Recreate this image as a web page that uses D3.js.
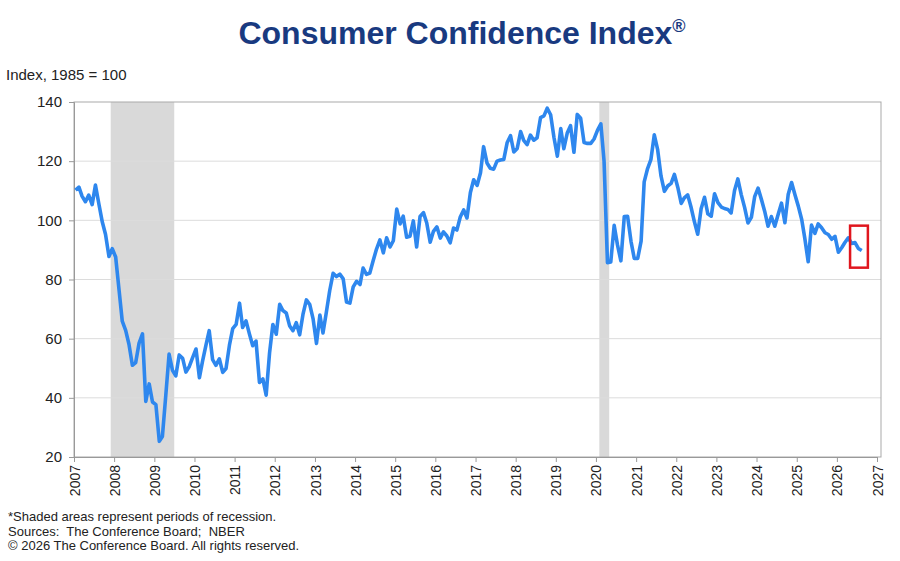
<!DOCTYPE html>
<html>
<head>
<meta charset="utf-8">
<script src="https://cdn.jsdelivr.net/npm/d3@7"></script>
<style>
  body { margin: 0; background: #fff; }
  svg { display: block; font-family: "Liberation Sans", Arial, sans-serif; }
</style>
</head>
<body>
<svg id="chart"></svg>
<script>
var screen = {width: 900, height: 561};
var margins = {top: 102, right: 19, bottom: 104, left: 74};

// monthly index values, Jan..Dec
var cci2007 = [110.2, 111.2, 108.2, 106.3, 108.5, 105.3, 111.9, 105.6, 99.5, 95.2, 87.8, 90.4];
var cci2008 = [87.6, 76.4, 65.9, 62.8, 58.1, 51.0, 51.9, 58.5, 61.6, 38.8, 44.7, 38.6];
var cci2009 = [37.7, 25.3, 26.9, 40.8, 54.8, 49.3, 47.4, 54.5, 53.4, 48.7, 50.6, 53.6];
var cci2010 = [56.5, 46.8, 52.3, 57.7, 62.7, 52.9, 51.0, 53.2, 48.6, 49.9, 57.8, 63.4];
var cci2011 = [64.8, 72.0, 63.8, 66.0, 61.7, 57.6, 59.2, 45.2, 46.4, 40.9, 55.2, 64.8];
var cci2012 = [61.5, 71.6, 69.5, 68.7, 64.4, 62.7, 65.4, 61.3, 68.4, 73.1, 71.5, 66.7];
var cci2013 = [58.4, 68.0, 61.9, 69.0, 76.2, 82.1, 81.0, 81.8, 80.2, 72.4, 72.0, 77.5];
var cci2014 = [79.4, 78.3, 83.9, 81.7, 82.2, 86.4, 90.3, 93.4, 89.0, 94.1, 91.0, 93.1];
var cci2015 = [103.8, 98.8, 101.4, 94.3, 94.6, 99.8, 91.0, 101.3, 102.6, 99.1, 92.6, 96.3];
var cci2016 = [97.8, 94.0, 96.1, 94.7, 92.4, 97.4, 96.7, 101.1, 103.5, 100.8, 109.4, 113.7];
var cci2017 = [111.8, 116.1, 124.9, 119.4, 117.6, 117.3, 120.0, 120.4, 120.6, 126.2, 128.6, 123.1];
var cci2018 = [124.3, 130.0, 127.0, 125.6, 128.8, 127.1, 127.9, 134.7, 135.3, 137.9, 135.7, 128.1];
var cci2019 = [121.7, 131.0, 124.2, 129.5, 132.0, 123.0, 135.8, 134.5, 126.3, 126.0, 126.0, 127.5];
var cci2020 = [130.4, 132.6, 120.0, 85.7, 85.9, 98.3, 91.7, 86.3, 101.3, 101.4, 92.9, 87.1];
var cci2021 = [87.1, 93.0, 113.0, 117.5, 120.5, 128.9, 124.0, 115.0, 109.8, 111.6, 112.5, 115.5];
var cci2022 = [111.1, 105.7, 107.6, 108.6, 104.5, 99.5, 95.3, 103.9, 107.8, 102.2, 101.4, 109.0];
var cci2023 = [106.0, 104.5, 104.0, 103.7, 102.5, 110.1, 114.0, 108.7, 104.3, 99.1, 101.0, 108.0];
var cci2024 = [110.9, 107.0, 103.1, 98.0, 101.3, 98.0, 101.9, 105.8, 99.2, 108.7, 112.8, 108.7];
var cci2025 = [104.8, 100.3, 94.0, 86.0, 98.4, 95.6, 98.8, 97.5, 95.8, 95.2, 93.6, 94.6];
var cci2026 = [89.2, 90.8, 92.5, 94.1, 92.2, 92.5, 90.5, 89.8];

var years = [2007, 2008, 2009, 2010, 2011, 2012, 2013, 2014, 2015, 2016,
             2017, 2018, 2019, 2020, 2021, 2022, 2023, 2024, 2025, 2026];
var yearly = [cci2007, cci2008, cci2009, cci2010, cci2011, cci2012, cci2013, cci2014, cci2015, cci2016,
              cci2017, cci2018, cci2019, cci2020, cci2021, cci2022, cci2023, cci2024, cci2025, cci2026];

// recession periods (NBER), start / end
var recessions = [["2007-12-01", "2009-07-01"], ["2020-02-01", "2020-05-01"]];

var yTicks = [20, 40, 60, 80, 100, 120, 140];
var xTickYears = [2007, 2008, 2009, 2010, 2011, 2012, 2013, 2014, 2015, 2016, 2017,
                  2018, 2019, 2020, 2021, 2022, 2023, 2024, 2025, 2026, 2027];

// red box around latest readings
var highlight = {from: "2026-05-01", to: "2026-10-10", top: 98.2, bottom: 84.0};

var footnotes = ["*Shaded areas represent periods of recession.",
                 "Sources:  The Conference Board;  NBER",
                 "\u00a9 2026 The Conference Board. All rights reserved."];

var parse = d3.timeParse("%Y-%m-%d");

var data = [];
years.forEach(function(yr, i) {
    yearly[i].forEach(function(v, m) {
        data.push({date: new Date(yr, m, 15), value: v});
    });
});

var width = screen.width - margins.left - margins.right;
var height = screen.height - margins.top - margins.bottom;

var svg = d3.select("#chart")
    .attr("width", screen.width)
    .attr("height", screen.height);

var xScale = d3.scaleTime()
    .domain([new Date(2007, 0, 1), new Date(2027, 0, 1)])
    .range([margins.left, margins.left + width - 4]);

var yScale = d3.scaleLinear()
    .domain([20, 140])
    .range([margins.top + height, margins.top]);

// title
var title = svg.append("text")
    .attr("x", 462)
    .attr("y", 44)
    .attr("text-anchor", "middle")
    .attr("fill", "#193a80")
    .style("font-size", "32px")
    .style("font-weight", "bold")
    .text("Consumer Confidence Index");
title.append("tspan")
    .attr("dy", -12)
    .style("font-size", "18px")
    .text("\u00ae");

svg.append("text")
    .attr("x", 6)
    .attr("y", 80)
    .attr("fill", "#222")
    .style("font-size", "15px")
    .text("Index, 1985 = 100");

// recession shading
svg.append("g").selectAll("rect")
    .data(recessions)
    .enter()
    .append("rect")
    .attr("x", function(d) { return xScale(parse(d[0])); })
    .attr("width", function(d) { return xScale(parse(d[1])) - xScale(parse(d[0])); })
    .attr("y", margins.top)
    .attr("height", height)
    .attr("fill", "#d9d9d9");

// gridlines
svg.append("g").selectAll("line")
    .data(yTicks.slice(1, -1))
    .enter()
    .append("line")
    .attr("x1", margins.left)
    .attr("x2", margins.left + width)
    .attr("y1", function(d) { return yScale(d); })
    .attr("y2", function(d) { return yScale(d); })
    .attr("stroke", "#dcdcdc")
    .attr("stroke-width", 1);

// plot frame
svg.append("rect")
    .attr("x", margins.left)
    .attr("y", margins.top)
    .attr("width", width)
    .attr("height", height)
    .attr("fill", "none")
    .attr("stroke", "#a9a9a9")
    .attr("stroke-width", 1);

var yAxis = d3.axisLeft(yScale)
    .tickValues(yTicks)
    .tickSize(5)
    .tickPadding(7);

svg.append("g")
    .attr("class", "axis")
    .attr("transform", "translate(" + margins.left + ",0)")
    .call(yAxis);

var xAxis = d3.axisBottom(xScale)
    .tickValues(xTickYears.map(function(y) { return new Date(y, 0, 1); }))
    .tickFormat(d3.timeFormat("%Y"))
    .tickSize(5);

svg.append("g")
    .attr("class", "axis")
    .attr("transform", "translate(0," + (margins.top + height) + ")")
    .call(xAxis)
    .selectAll("text")
    .attr("transform", "rotate(-90)")
    .attr("text-anchor", "end")
    .attr("x", -8)
    .attr("y", 0)
    .attr("dy", "0.36em");

svg.selectAll(".axis path").attr("stroke", "#999");
svg.selectAll(".axis line").attr("stroke", "#999");
svg.selectAll(".axis text")
    .attr("fill", "#222")
    .style("font-family", "'Liberation Sans', Arial, sans-serif");
svg.selectAll(".axis").filter(function(d, i) { return i == 0; })
    .selectAll("text").style("font-size", "15px");
svg.selectAll(".axis").filter(function(d, i) { return i == 1; })
    .selectAll("text").style("font-size", "14px");

// the index line
var lineGenerator = d3.line()
    .x(function(d) { return xScale(d.date); })
    .y(function(d) { return yScale(d.value); });

svg.append("path")
    .datum(data)
    .attr("d", lineGenerator)
    .attr("fill", "none")
    .attr("stroke", "#2e87ee")
    .attr("stroke-width", 3.6)
    .attr("stroke-linejoin", "round");

// latest readings box
svg.append("rect")
    .attr("x", xScale(parse(highlight.from)))
    .attr("y", yScale(highlight.top))
    .attr("width", xScale(parse(highlight.to)) - xScale(parse(highlight.from)))
    .attr("height", yScale(highlight.bottom) - yScale(highlight.top))
    .attr("fill", "none")
    .attr("stroke", "#e0161e")
    .attr("stroke-width", 2.5);

// footnotes
svg.append("g").selectAll("text")
    .data(footnotes)
    .enter()
    .append("text")
    .attr("x", 8)
    .attr("y", function(d, i) { return 521 + i * 14.5; })
    .attr("fill", "#222")
    .style("font-size", "13px")
    .style("white-space", "pre")
    .text(function(d) { return d; });
</script>
</body>
</html>
